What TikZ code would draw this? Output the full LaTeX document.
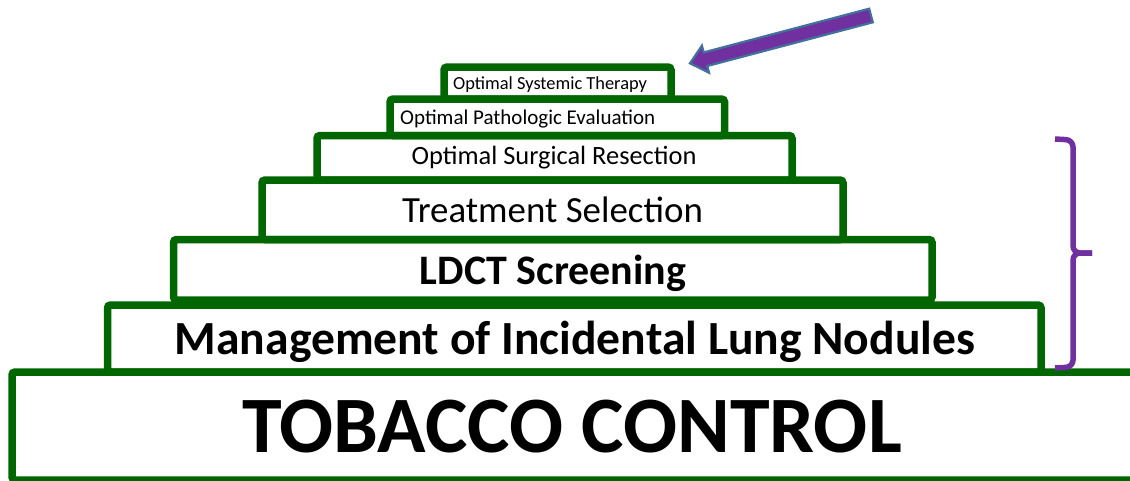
\documentclass[tikz,border=0pt]{standalone}
\usepackage{fontspec}
\setmainfont{Carlito}
\definecolor{stepgreen}{RGB}{0,102,0}
\definecolor{arrowpurple}{RGB}{112,48,160}
\definecolor{arrowblue}{RGB}{65,113,156}
\begin{document}
\begin{tikzpicture}[x=1pt,y=-1pt,
  tier/.style={draw=stepgreen, line width=7.5pt, rounded corners=3pt, rectangle, inner sep=0pt},
  tiertext/.style={anchor=base, inner sep=0pt, text=black},
  bracestyle/.style={draw=arrowpurple, line width=5.5pt, rounded corners=7pt}]
\useasboundingbox (0,0) rectangle (1130,480);
% tiers
\node[tier, minimum width=1124pt, minimum height=108pt] (tobacco) at (574,426) {};
\node[tier, minimum width=933.5pt, minimum height=67pt] (manage) at (574.25,338.5) {};
\node[tier, minimum width=758.5pt, minimum height=60.5pt] (ldct) at (552.75,269.75) {};
\node[tier, minimum width=581pt, minimum height=59.5pt] (treat) at (552.5,209.75) {};
\node[tier, minimum width=475pt, minimum height=44.5pt] (surg) at (554.5,157.75) {};
\node[tier, minimum width=334.5pt, minimum height=36.5pt] (path) at (557.25,117.25) {};
\node[tier, minimum width=227pt, minimum height=32pt] (syst) at (557.5,83) {};
% texts
\node[tiertext, font=\bfseries\fontsize{80}{96}\selectfont] (tobaccotext) at (572,452.5) {TOBACCO CONTROL};
\node[tiertext, font=\bfseries\fontsize{47.6}{56}\selectfont] (managetext) at (575,354) {Management of Incidental Lung Nodules};
\node[tiertext, font=\bfseries\fontsize{42}{50}\selectfont] (ldcttext) at (553,284) {LDCT Screening};
\node[tiertext, font=\fontsize{36.9}{44}\selectfont] (treattext) at (552.5,222) {Treatment Selection};
\node[tiertext, font=\fontsize{26.4}{32}\selectfont] (surgtext) at (554,164) {Optimal Surgical Resection};
\node[tiertext, anchor=base west, font=\fontsize{21}{25}\selectfont] (pathtext) at (400,124) {Optimal Pathologic Evaluation};
\node[tiertext, anchor=base west, font=\fontsize{18.4}{22}\selectfont] (systtext) at (453,89) {Optimal Systemic Therapy};
% arrow
\coordinate (arrowtip) at (690,63.3);
\draw[fill=arrowpurple, draw=arrowblue, line width=2.2pt, line join=miter]
  (arrowtip) -- (701.9,45.7) -- (703.7,52.4) -- (869.2,8.7) -- (872.8,22.3)
  -- (707.3,66.0) -- (709.0,72.7) -- cycle;
% brace
\draw[bracestyle] (1055,139) -- (1073,140) -- (1073,253) -- (1092,253);
\draw[bracestyle] (1092,253) -- (1073,253) -- (1073,367) -- (1055,368);
\end{tikzpicture}
\end{document}
